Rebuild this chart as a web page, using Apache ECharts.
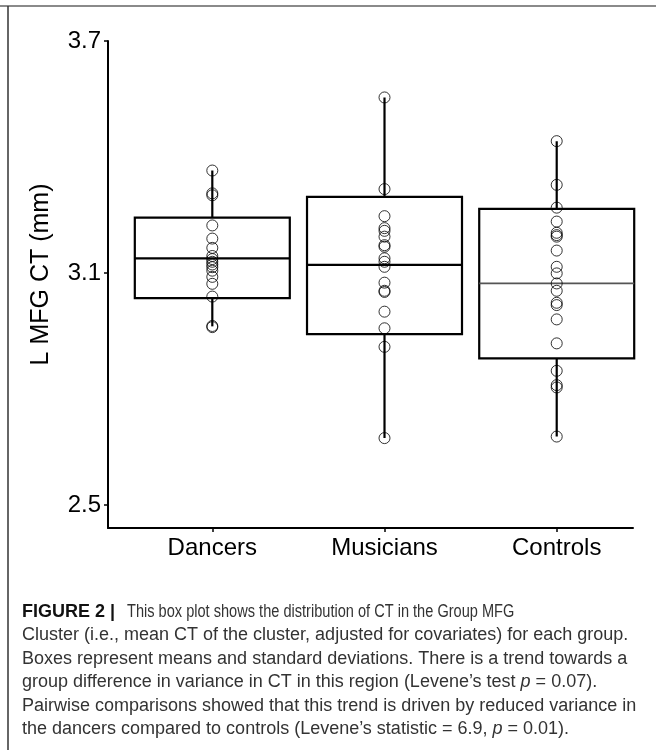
<!DOCTYPE html>
<html>
<head>
<meta charset="utf-8">
<script src="https://cdn.jsdelivr.net/npm/echarts@6/dist/echarts.min.js"></script>
<style>
html,body{margin:0;padding:0;background:#fff;}
#chart{width:656px;height:750px;}
</style>
</head>
<body>
<div id="chart"></div>
<script>
// ---- data ----
const categories = ['Dancers', 'Musicians', 'Controls'];
const yTickValues = [2.5, 3.1, 3.7];
const whiskerLow  = [2.962, 2.673, 2.677];
const sdLow       = [3.035, 2.942, 2.879];
const means       = [3.138, 3.121, 3.073];
const sdHigh      = [3.243, 3.297, 3.266];
const whiskerHigh = [3.365, 3.554, 3.441];
const dancersPts = [3.365, 3.306, 3.301, 3.223, 3.189, 3.165, 3.144, 3.136, 3.129, 3.122, 3.115, 3.106, 3.090, 3.072, 3.039, 2.963, 2.960];
const musiciansPts = [3.554, 3.317, 3.247, 3.216, 3.209, 3.194, 3.172, 3.168, 3.138, 3.129, 3.116, 3.075, 3.054, 3.051, 3.000, 2.957, 2.909, 2.673];
const controlsPts = [3.441, 3.328, 3.269, 3.233, 3.204, 3.198, 3.194, 3.158, 3.116, 3.099, 3.073, 3.054, 3.023, 3.017, 2.980, 2.918, 2.847, 2.810, 2.804, 2.677];
const yAxisTitle = 'L MFG CT (mm)';
const captionLead = 'FIGURE 2 |';
const captionLines = [
  [{t:'This box plot shows the distribution of CT in the Group MFG'}],
  [{t:'Cluster (i.e., mean CT of the cluster, adjusted for covariates) for each group.'}],
  [{t:'Boxes represent means and standard deviations. There is a trend towards a'}],
  [{t:'group difference in variance in CT in this region (Levene\u2019s test '}, {i:'p'}, {t:' = 0.07).'}],
  [{t:'Pairwise comparisons showed that this trend is driven by reduced variance in'}],
  [{t:'the dancers compared to controls (Levene\u2019s statistic = 6.9, '}, {i:'p'}, {t:' = 0.01).'}]
];
const medianColors = ['#000', '#000', '#555'];

// ---- build ----
const boxData = categories.map((c, i) => [i + 1, whiskerLow[i], sdLow[i], means[i], sdHigh[i], whiskerHigh[i]]);
const pointGroups = [dancersPts, musiciansPts, controlsPts];
const scatterData = [];
pointGroups.forEach((arr, i) => arr.forEach(v => scatterData.push([i + 1, v])));

const FONT = '"Liberation Sans", Arial, sans-serif';
const richStyles = {
  n: {fontFamily: FONT, fontSize: 18, fill: '#333'},
  i: {fontFamily: FONT, fontSize: 18, fontStyle: 'italic', fill: '#333'}
};

const captionGraphics = [{
  type: 'text', x: 22, y: 603,
  style: {text: captionLead, fontFamily: FONT, fontSize: 18, fontWeight: 'bold', fill: '#111', verticalAlign: 'top'}
}].concat(captionLines.map((parts, li) => {
  const txt = parts.map(p => p.i ? '{i|' + p.i + '}' : '{n|' + p.t + '}').join('');
  return {
    type: 'text', x: li === 0 ? 127 : 22, y: 603 + li * 23.4,
    scaleX: li === 0 ? 0.81 : 1,
    style: {text: txt, rich: richStyles, verticalAlign: 'top'}
  };
}));

const chart = echarts.init(document.getElementById('chart'), null, {renderer: 'canvas'});
chart.setOption({
  backgroundColor: '#fff',
  animation: false,
  grid: {left: 108, right: 23, top: 41, bottom: 222, containLabel: false},
  xAxis: {
    type: 'value', min: 0.3943, max: 3.443,
    splitLine: {show: false},
    axisLine: {show: true, lineStyle: {color: '#000', width: 2}},
    axisTick: {show: true, customValues: [1, 2, 3], length: 4, lineStyle: {color: '#000', width: 1.5}},
    axisLabel: {customValues: [1, 2, 3], formatter: v => categories[Math.round(v) - 1] || '', fontFamily: FONT, fontSize: 24, color: '#000', margin: 8}
  },
  yAxis: {
    type: 'value', min: 2.4405, max: 3.7,
    name: yAxisTitle, nameLocation: 'middle', nameGap: 54, nameRotate: 90,
    nameTextStyle: {fontFamily: FONT, fontSize: 25, color: '#000', padding: [0, 0, 0, 20]},
    splitLine: {show: false},
    axisLine: {show: true, lineStyle: {color: '#000', width: 2}},
    axisTick: {show: true, customValues: yTickValues, length: 4, lineStyle: {color: '#000', width: 1.5}},
    axisLabel: {customValues: yTickValues, formatter: v => v.toFixed(1), fontFamily: FONT, fontSize: 24, color: '#000', margin: 7}
  },
  graphic: [
    {type: 'line', shape: {x1: 0, y1: 6, x2: 656, y2: 6}, style: {stroke: '#8a8a8a', lineWidth: 2}},
    {type: 'line', shape: {x1: 8, y1: 6, x2: 8, y2: 750}, style: {stroke: '#333', lineWidth: 1.5}}
  ].concat(captionGraphics),
  series: [
    {
      type: 'custom',
      data: boxData,
      z: 2,
      renderItem: function (params, api) {
        const x = api.value(0);
        const wl = api.coord([x, api.value(1)]);
        const lo = api.coord([x, api.value(2)]);
        const md = api.coord([x, api.value(3)]);
        const hi = api.coord([x, api.value(4)]);
        const wh = api.coord([x, api.value(5)]);
        const half = api.size([0.45, 0])[0];
        const idx = params.dataIndex;
        return {
          type: 'group',
          children: [
            {type: 'line', shape: {x1: wl[0], y1: wl[1], x2: wh[0], y2: wh[1]}, style: {stroke: '#000', lineWidth: 2.2}},
            {type: 'rect', shape: {x: lo[0] - half, y: hi[1], width: half * 2, height: lo[1] - hi[1]}, style: {fill: '#fff', stroke: '#000', lineWidth: 2.2}},
            {type: 'line', shape: {x1: md[0] - half, y1: md[1], x2: md[0] + half, y2: md[1]}, style: {stroke: medianColors[idx], lineWidth: idx === 2 ? 1.8 : 2.2}}
          ]
        };
      }
    },
    {
      type: 'scatter',
      data: scatterData,
      z: 3,
      symbol: 'circle',
      symbolSize: 11,
      itemStyle: {color: 'rgba(0,0,0,0)', borderColor: '#000', borderWidth: 1},
      silent: true
    }
  ]
});
</script>
</body>
</html>
